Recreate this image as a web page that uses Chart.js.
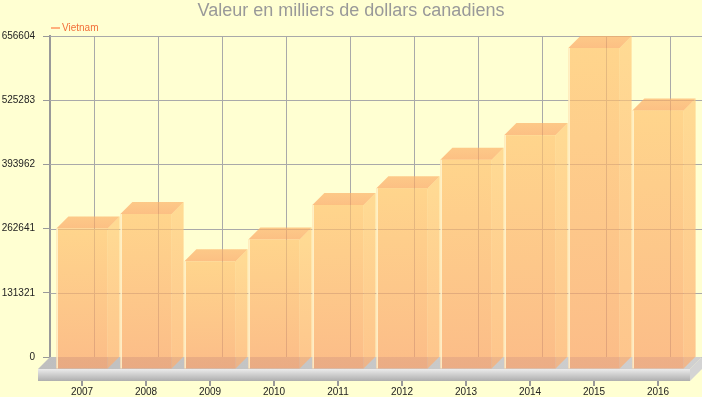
<!DOCTYPE html>
<html lang="fr">
<head>
  <meta charset="UTF-8" />
  <title>Valeur en milliers de dollars canadiens</title>
  <script src="https://cdn.jsdelivr.net/npm/chart.js"></script>
  <style>
    body {
      margin: 0;
      background: #ffffd2; /* fond jaune pâle */
    }
    canvas {
      display: block;
    }
  </style>
</head>
<body>
  <canvas id="chart" width="702" height="397"></canvas>

  <script>
    const years = ['2007', '2008', '2009', '2010', '2011', '2012', '2013', '2014', '2015', '2016'];
    const values = [287200, 317100, 220200, 264700, 335600, 369800, 428000, 478400, 656604, 529000];
    const yTickValues = [0, 131321, 262641, 393962, 525283, 656604];
    const yTickLabels = ['0', '131321', '262641', '393962', '525283', '656604'];
    const seriesName = 'Vietnam';

    const DEPTH = 12; // profondeur de l'effet 3D

    Chart.defaults.font.family = "'Liberation Sans', Arial, sans-serif";

    const box3d = {
      id: 'box3d',
      beforeDatasetsDraw(chart) {
        const { ctx, chartArea: a, scales: { x, y } } = chart;
        ctx.save();

        // grille sur le plan arrière
        ctx.strokeStyle = '#a9a9a9';
        ctx.lineWidth = 1;
        yTickValues.forEach(v => {
          const py = Math.round(y.getPixelForValue(v)) + 0.5;
          ctx.beginPath();
          ctx.moveTo(a.left, py);
          ctx.lineTo(a.right + DEPTH, py);
          ctx.stroke();
        });
        years.forEach((_, i) => {
          const px = Math.round(x.getPixelForValue(i) + DEPTH) + 0.5;
          ctx.beginPath();
          ctx.moveTo(px, a.top);
          ctx.lineTo(px, a.bottom);
          ctx.stroke();
        });

        // socle
        const y0 = y.getPixelForValue(0);
        const fl = a.left - DEPTH, fr = a.right;
        let g = ctx.createLinearGradient(fl, 0, a.right + DEPTH, 0);
        g.addColorStop(0, '#bfbfbf');
        g.addColorStop(1, '#d0d0d0');
        ctx.fillStyle = g;
        ctx.beginPath();
        ctx.moveTo(fl, y0 + DEPTH);
        ctx.lineTo(a.left, y0);
        ctx.lineTo(a.right + DEPTH, y0);
        ctx.lineTo(fr, y0 + DEPTH);
        ctx.closePath();
        ctx.fill();

        g = ctx.createLinearGradient(0, y0 + DEPTH, 0, y0 + DEPTH + 12);
        g.addColorStop(0, '#ebebeb');
        g.addColorStop(1, '#aeaeae');
        ctx.fillStyle = g;
        ctx.fillRect(fl, y0 + DEPTH, fr - fl, 12);

        ctx.fillStyle = '#d4d4d4';
        ctx.beginPath();
        ctx.moveTo(fr, y0 + DEPTH);
        ctx.lineTo(fr + DEPTH, y0);
        ctx.lineTo(fr + DEPTH, y0 + 12);
        ctx.lineTo(fr, y0 + DEPTH + 12);
        ctx.closePath();
        ctx.fill();

        ctx.restore();
      },
      afterDatasetsDraw(chart) {
        const { ctx } = chart;
        const meta = chart.getDatasetMeta(0);
        ctx.save();
        meta.data.forEach(bar => {
          const { x: cx, y: top, base, width } = bar.getProps(['x', 'y', 'base', 'width'], true);
          const x0 = cx - width / 2, x1 = cx + width / 2;
          const yt = top + DEPTH, yb = base + DEPTH;

          // face latérale
          let g = ctx.createLinearGradient(0, yt, 0, yb);
          g.addColorStop(0, 'rgba(255,202,120,0.7)');
          g.addColorStop(1, 'rgba(253,172,110,0.7)');
          ctx.fillStyle = g;
          ctx.beginPath();
          ctx.moveTo(x1, yt);
          ctx.lineTo(x1 + DEPTH, yt - DEPTH);
          ctx.lineTo(x1 + DEPTH, yb - DEPTH);
          ctx.lineTo(x1, yb);
          ctx.closePath();
          ctx.fill();

          // dessus
          g = ctx.createLinearGradient(0, yt - DEPTH, 0, yt);
          g.addColorStop(0, 'rgba(252,178,104,0.7)');
          g.addColorStop(1, 'rgba(251,165,98,0.7)');
          ctx.fillStyle = g;
          ctx.beginPath();
          ctx.moveTo(x0, yt);
          ctx.lineTo(x0 + DEPTH, yt - DEPTH);
          ctx.lineTo(x1 + DEPTH, yt - DEPTH);
          ctx.lineTo(x1, yt);
          ctx.closePath();
          ctx.fill();

          // face avant
          g = ctx.createLinearGradient(0, yt, 0, yb);
          g.addColorStop(0, 'rgba(255,195,110,0.7)');
          g.addColorStop(1, 'rgba(250,160,104,0.7)');
          ctx.fillStyle = g;
          ctx.fillRect(x0, yt, x1 - x0, yb - yt);

          // liseré clair à gauche
          ctx.strokeStyle = 'rgba(255,246,210,0.9)';
          ctx.lineWidth = 1.5;
          ctx.beginPath();
          ctx.moveTo(x0 + 0.75, yt);
          ctx.lineTo(x0 + 0.75, yb);
          ctx.stroke();
        });
        ctx.restore();
      },
      afterDraw(chart) {
        // légende
        const { ctx } = chart;
        ctx.save();
        ctx.strokeStyle = '#ffb07c';
        ctx.lineWidth = 2;
        ctx.beginPath();
        ctx.moveTo(51, 28);
        ctx.lineTo(60, 28);
        ctx.stroke();
        ctx.fillStyle = '#f2703a';
        ctx.font = "10px 'Liberation Sans', Arial, sans-serif";
        ctx.textBaseline = 'middle';
        ctx.fillText(seriesName, 62, 28);
        ctx.restore();
      }
    };

    new Chart(document.getElementById('chart'), {
      type: 'bar',
      data: {
        labels: years,
        datasets: [{
          label: seriesName,
          data: values,
          backgroundColor: 'rgba(0,0,0,0)',
          borderWidth: 0,
          categoryPercentage: 1.0,
          barPercentage: 0.8
        }]
      },
      options: {
        responsive: false,
        animation: false,
        layout: { padding: 0 },
        plugins: {
          legend: { display: false },
          tooltip: { enabled: false },
          title: {
            display: true,
            text: 'Valeur en milliers de dollars canadiens',
            color: '#999999',
            font: { size: 18, weight: 'normal' },
            padding: { top: 0, bottom: 14.4 }
          }
        },
        scales: {
          x: {
            offset: true,
            afterFit: s => { s.height = 40; },
            grid: { offset: false, drawOnChartArea: false, drawTicks: true, tickLength: 29, color: '#999999', lineWidth: 2 },
            border: { display: false },
            ticks: { padding: 0, color: '#222222', font: { size: 10 }, maxRotation: 0 }
          },
          y: {
            min: 0,
            max: 656604,
            afterBuildTicks: s => { s.ticks = yTickValues.map(v => ({ value: v })); },
            afterFit: s => { s.width = 50; },
            grid: { drawOnChartArea: false, drawTicks: true, tickLength: 7, color: '#999999', lineWidth: 1 },
            border: { display: true, color: '#999999', width: 2 },
            ticks: { padding: 8, color: '#222222', font: { size: 10 }, callback: (v, i) => yTickLabels[i] }
          },
          // marge à droite pour la profondeur 3D
          yRight: {
            position: 'right',
            afterFit: s => { s.width = 12; },
            grid: { display: false },
            border: { display: false },
            ticks: { display: false }
          }
        }
      },
      plugins: [box3d]
    });
  </script>
</body>
</html>
